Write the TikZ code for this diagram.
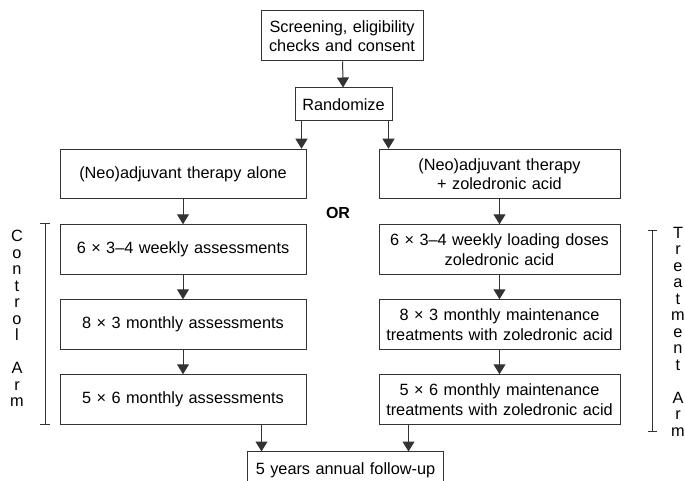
\documentclass[tikz,border=0pt]{standalone}
\usepackage{fontspec}
\setmainfont{Liberation Sans}
\usetikzlibrary{arrows.meta}

\begin{document}
\begin{tikzpicture}[x=1pt,y=-1pt,
	box/.style={draw=black!80, line width=1pt, align=center, inner xsep=4pt, inner ysep=0pt, font=\fontsize{16.3}{19.5}\selectfont},
	lbox/.style={box, text width=238pt, minimum height=49.5pt},
	rbox/.style={box, text width=233pt, minimum height=49.5pt},
	arr/.style={draw=black!80, line width=1pt, -{Triangle[width=12pt,length=10pt]}},
	bar/.style={draw=black!80, line width=1pt},
	vtext/.style={align=center, inner sep=0pt, font=\fontsize{16.3}{16.5}\selectfont}]
	
	\useasboundingbox (0,0) rectangle (685,481);
	
	% top of the flow
	\node[box, text width=154pt, minimum height=50pt] (screen) at (342,36) {Screening, eligibility\\checks and consent};
	\node[box, text width=89pt, minimum height=33pt] (rand) at (343.5,104.5) {Randomize};
	
	% control arm
	\node[lbox] (left1) at (183,174) {(Neo)adjuvant therapy alone};
	\node[lbox] (left2) at (183,249.5) {6 × 3–4 weekly assessments};
	\node[lbox] (left3) at (183,324.5) {8 × 3 monthly assessments};
	\node[lbox] (left4) at (183,399.5) {5 × 6 monthly assessments};
	
	% treatment arm
	\node[rbox] (right1) at (499.5,174) {(Neo)adjuvant therapy\\+ zoledronic acid};
	\node[rbox] (right2) at (499.5,249.5) {6 × 3–4 weekly loading doses\\zoledronic acid};
	\node[rbox] (right3) at (499.5,324.5) {8 × 3 monthly maintenance\\treatments with zoledronic acid};
	\node[rbox] (right4) at (499.5,399.5) {5 × 6 monthly maintenance\\treatments with zoledronic acid};
	
	\node[font=\fontsize{16}{19}\selectfont\bfseries] (or) at (338,213) {OR};
	
	% follow-up, cut at the bottom
	\node[box, draw=none, text width=187pt, minimum height=36pt] (follow) at (345.5,470) {5 years annual follow-up};
	\coordinate (bot) at (0,481);
	\draw[bar] (follow.north west |- bot) -- (follow.north west) -- (follow.north east) -- (follow.north east |- bot);
	
	% arrows
	\draw[arr] (screen) -- (rand);
	\coordinate (rl) at ([xshift=7pt]rand.south west);
	\coordinate (rr) at ([xshift=-4pt]rand.south east);
	\draw[arr] (rl) -- (rl |- left1.north);
	\draw[arr] (rr) -- (rr |- right1.north);
	
	\draw[arr] (left1) -- (left2);
	\draw[arr] (left2) -- (left3);
	\draw[arr] (left3) -- (left4);
	\draw[arr] (right1) -- (right2);
	\draw[arr] (right2) -- (right3);
	\draw[arr] (right3) -- (right4);
	
	\coordinate (fl) at ([xshift=14pt]follow.north west);
	\coordinate (fr) at ([xshift=-35pt]follow.north east);
	\draw[arr] (fl |- left4.south) -- (fl);
	\draw[arr] (fr |- right4.south) -- (fr);
	
	% arm brackets
	\draw[bar] (40,223) -- (50,223);
	\draw[bar] (45,223) -- (45,424);
	\draw[bar] (40,424) -- (50,424);
	\node[vtext] (ctrl) at (17,318.5) {C\\o\\n\\t\\r\\o\\l\\[16.5pt]A\\r\\m};
	
	\draw[bar] (648,230) -- (657,230);
	\draw[bar] (652,230) -- (652,431);
	\draw[bar] (648,431) -- (657,431);
	\node[vtext] (treat) at (678,331.5) {T\\r\\e\\a\\t\\m\\e\\n\\t\\[16.5pt]A\\r\\m};
	
\end{tikzpicture}
\end{document}
